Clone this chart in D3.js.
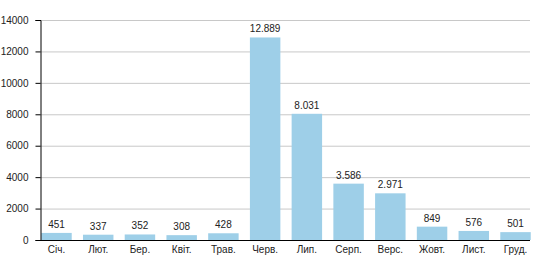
<!DOCTYPE html>
<html>
<head>
    <meta charset="utf-8">
    <script src="https://d3js.org/d3.v7.min.js"></script>
    <style>
        body { margin: 0; background: #fff; }
        text { font-family: "Liberation Sans", Arial, sans-serif; fill: #222; }
    </style>
</head>
<body>
    <svg width="550" height="280"></svg>
    <script>
        var months = ["Січ.", "Лют.", "Бер.", "Квіт.", "Трав.", "Черв.", "Лип.", "Серп.", "Верс.", "Жовт.", "Лист.", "Груд."];
        var values = [451, 337, 352, 308, 428, 12889, 8031, 3586, 2971, 849, 576, 501];
        var yTicks = [0, 2000, 4000, 6000, 8000, 10000, 12000, 14000];

        var svg = d3.select("svg");
        var plotLeft = 40, plotRight = 532, plotTop = 20, plotBottom = 240;

        var x = d3.scaleBand()
            .domain(months)
            .range([plotLeft, plotRight])
            .paddingInner(0.27)
            .paddingOuter(0.03);

        var y = d3.scaleLinear()
            .domain([0, 14000])
            .range([plotBottom, plotTop]);

        // сітка
        svg.append("g")
            .selectAll("line")
            .data(yTicks.filter(function(d) { return d > 0; }))
            .enter().append("line")
            .attr("x1", plotLeft)
            .attr("x2", 530)
            .attr("y1", function(d) { return y(d) + 0.5; })
            .attr("y2", function(d) { return y(d) + 0.5; })
            .attr("stroke", "#c8c8c8")
            .attr("stroke-width", 1);

        // стовпці
        svg.append("g")
            .selectAll("rect")
            .data(values)
            .enter().append("rect")
            .attr("x", function(d, i) { return x(months[i]); })
            .attr("width", x.bandwidth())
            .attr("y", function(d) { return y(d); })
            .attr("height", function(d) { return plotBottom - y(d); })
            .attr("fill", "#9ecfe8");

        // підписи значень
        svg.append("g")
            .selectAll("text")
            .data(values)
            .enter().append("text")
            .attr("x", function(d, i) { return x(months[i]) + x.bandwidth() / 2; })
            .attr("y", function(d) { return y(d) - 5; })
            .attr("text-anchor", "middle")
            .style("font-size", "10px")
            .text(function(d) { return d >= 1000 ? d3.format(",")(d).replace(",", ".") : d; });

        // вісь Y
        var yAxis = svg.append("g")
            .attr("transform", "translate(" + (plotLeft + 0.5) + ",0)")
            .call(d3.axisLeft(y).tickValues(yTicks).tickFormat(d3.format("d")).tickSize(5).tickPadding(7));
        yAxis.selectAll("path, line").attr("stroke", "#000");
        yAxis.selectAll("text").style("font-size", "10px").attr("fill", "#222");

        // вісь X
        svg.append("line")
            .attr("x1", plotLeft)
            .attr("x2", 530)
            .attr("y1", plotBottom + 0.5)
            .attr("y2", plotBottom + 0.5)
            .attr("stroke", "#000");

        svg.append("g")
            .selectAll("text")
            .data(months)
            .enter().append("text")
            .attr("x", function(d) { return x(d) + x.bandwidth() / 2; })
            .attr("y", plotBottom + 13)
            .attr("text-anchor", "middle")
            .style("font-size", "10px")
            .text(function(d) { return d; });
    </script>
</body>
</html>
